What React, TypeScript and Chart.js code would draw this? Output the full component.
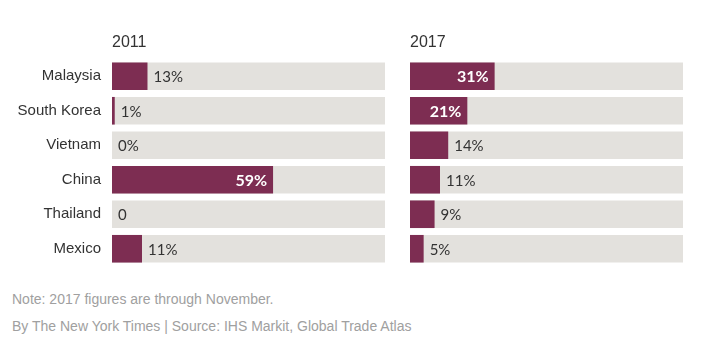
import React, { useEffect, useRef } from "react";
import { Chart, registerables } from "chart.js";

Chart.register(...registerables);

const categories = ["Malaysia", "South Korea", "Vietnam", "China", "Thailand", "Mexico"];
const values2011 = [13, 1, 0, 59, 0, 11];
const values2017 = [31, 21, 14, 11, 9, 5];
const labels2011 = ["13%", "1%", "0%", "59%", "0", "11%"];
const labels2017 = ["31%", "21%", "14%", "11%", "9%", "5%"];
const trackValues = [100, 100, 100, 100, 100, 100];
const panelTitles = ["2011", "2017"];
const noteText = "Note: 2017 figures are through November.";
const sourceText = "By The New York Times | Source: IHS Markit, Global Trade Atlas";

const BAR_COLOR = "#7d2d52";
const TRACK_COLOR = "#e3e1dd";
const TEXT_COLOR = "#333333";

function makeOverlay(title: string, labels: string[]) {
  return {
    id: "overlay",
    afterDatasetsDraw(chart: any) {
      const ctx = chart.ctx;
      const meta = chart.getDatasetMeta(0);
      const data = chart.data.datasets[0].data as number[];
      ctx.save();
      ctx.textBaseline = "middle";
      meta.data.forEach((bar: any, i: number) => {
        const p = bar.getProps(["x", "y"], true);
        if (data[i] >= 20) {
          ctx.font = "bold 16px Lato";
          ctx.fillStyle = "#ffffff";
          ctx.textAlign = "right";
          ctx.fillText(labels[i], p.x - 6, p.y + 1);
        } else {
          ctx.font = "15px Lato";
          ctx.fillStyle = TEXT_COLOR;
          ctx.textAlign = "left";
          ctx.fillText(labels[i], p.x + 6, p.y + 1);
        }
      });
      ctx.font = '16px "Liberation Sans"';
      ctx.fillStyle = TEXT_COLOR;
      ctx.textAlign = "left";
      ctx.textBaseline = "alphabetic";
      ctx.fillText(title, chart.chartArea.left, chart.chartArea.top - 12);
      ctx.restore();
    },
  };
}

function makeConfig(values: number[], labels: string[], title: string, showLabels: boolean): any {
  return {
    type: "bar",
    data: {
      labels: categories,
      datasets: [
        {
          data: values,
          backgroundColor: BAR_COLOR,
          grouped: false,
          barPercentage: 0.8,
          categoryPercentage: 1,
          borderWidth: 0,
        },
        {
          data: trackValues,
          backgroundColor: TRACK_COLOR,
          grouped: false,
          barPercentage: 0.8,
          categoryPercentage: 1,
          borderWidth: 0,
        },
      ],
    },
    options: {
      indexAxis: "y",
      responsive: false,
      animation: false,
      layout: { padding: { top: 51, bottom: 0, left: showLabels ? 0 : 10, right: 0 } },
      plugins: { legend: { display: false }, tooltip: { enabled: false } },
      scales: {
        x: { display: false, min: 0, max: 100 },
        y: {
          display: true,
          grid: { display: false, drawTicks: false },
          border: { display: false },
          ticks: {
            display: showLabels,
            padding: 11,
            color: TEXT_COLOR,
            font: { family: '"Liberation Sans"', size: 15 },
          },
          afterFit: (s: any) => {
            s.width = showLabels ? 104 : 0;
            s.paddingTop = 0;
            s.paddingBottom = 0;
          },
        },
      },
    },
    plugins: [makeOverlay(title, labels)],
  };
}

export default function App() {
  const leftRef = useRef<HTMLCanvasElement>(null);
  const rightRef = useRef<HTMLCanvasElement>(null);

  useEffect(() => {
    const c1 = new Chart(leftRef.current!, makeConfig(values2011, labels2011, panelTitles[0], true));
    const c2 = new Chart(rightRef.current!, makeConfig(values2017, labels2017, panelTitles[1], false));
    return () => {
      c1.destroy();
      c2.destroy();
    };
  }, []);

  const footStyle: React.CSSProperties = {
    position: "absolute",
    left: 4,
    fontFamily: '"Liberation Sans", Arial, sans-serif',
    fontSize: 14,
    lineHeight: "16px",
    color: "#a0a0a0",
    whiteSpace: "nowrap",
  };

  return (
    <div style={{ position: "relative", width: 691, height: 339 }}>
      <canvas
        ref={leftRef}
        width={377}
        height={258}
        style={{ position: "absolute", left: 0, top: 0, width: 377, height: 258 }}
      />
      <canvas
        ref={rightRef}
        width={283}
        height={258}
        style={{ position: "absolute", left: 392, top: 0, width: 283, height: 258 }}
      />
      <div style={{ ...footStyle, top: 283 }}>{noteText}</div>
      <div style={{ ...footStyle, top: 310 }}>{sourceText}</div>
    </div>
  );
}
